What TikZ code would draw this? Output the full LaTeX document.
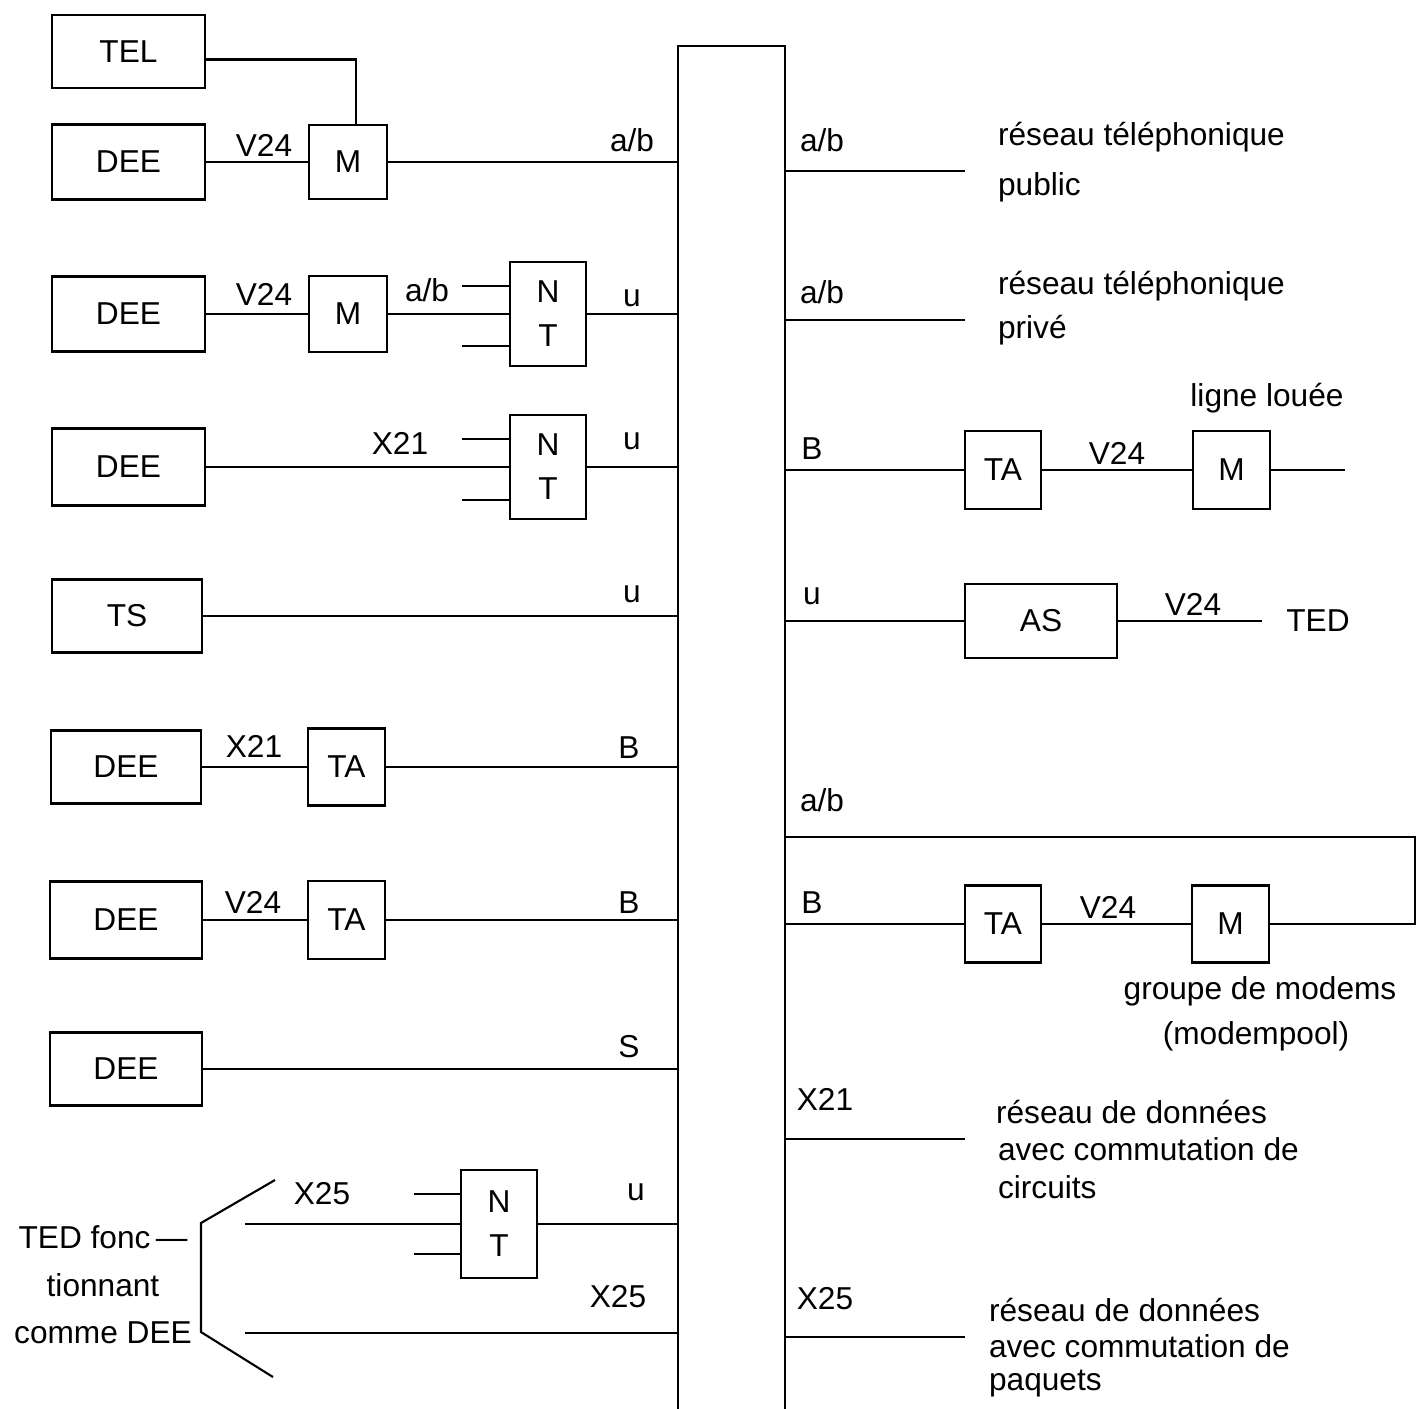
\documentclass[tikz,border=0pt]{standalone}
\usepackage{fontspec}
\setmainfont{Liberation Sans}
\usetikzlibrary{calc}
\begin{document}
\begin{tikzpicture}[x=0.01cm,y=-0.01cm,line width=0.6pt,
  txt/.style={font=\fontsize{9}{12.5}\selectfont, inner sep=0pt},
  blk/.style={draw, txt, inner sep=0pt, align=center},
  deebox/.style={blk, minimum width=1.53cm, minimum height=0.75cm},
  sqbox/.style={blk, minimum width=0.77cm, minimum height=0.77cm},
  ntbox/.style={blk, minimum width=0.76cm, minimum height=1.04cm},
  desc/.style={txt, anchor=west}]
\fill[white] (0,0) rectangle (1418,1408);
\useasboundingbox (0,0) rectangle (1418,1408);

% central bus
\node[minimum width=1.05cm, minimum height=13.62cm, inner sep=0pt, anchor=north west] (bus) at (678,46) {};
\draw (bus.south west) -- (bus.north west) -- (bus.north east) -- (bus.south east);

% ---------- left side ----------
% row 1
\node[deebox, minimum height=0.73cm] (tel) at (128.5,51.5) {TEL};
\node[deebox] (dee1) at (128.5,162) {DEE};
\node[sqbox, minimum width=0.78cm, minimum height=0.74cm] (m1) at (348,162) {M};
\draw ([yshift=-0.08cm]tel.east) -| ([xshift=0.08cm]m1.north);
\draw (dee1) -- (m1);
\draw (m1.east) -- (m1.east -| bus.west);
\node[txt] (l1a) at (264,145) {V24};
\node[txt] (l1b) at (632,140) {a/b};

% row 2
\node[deebox] (dee2) at (128.5,314) {DEE};
\node[sqbox, minimum width=0.78cm, minimum height=0.76cm] (m2) at (348,314) {M};
\node[ntbox] (nt1) at (548,314) {N\\T};
\draw (dee2) -- (m2);
\draw (m2) -- (nt1);
\draw ([yshift=0.28cm]nt1.west) -- ++(-47,0);
\draw ([yshift=-0.32cm]nt1.west) -- ++(-47,0);
\draw (nt1.east) -- (nt1.east -| bus.west);
\node[txt] (l2a) at (264,294) {V24};
\node[txt] (l2b) at (427,290) {a/b};
\node[txt] (l2c) at (632,298) {u};

% row 3
\node[deebox, minimum height=0.77cm] (dee3) at (128.5,467) {DEE};
\node[ntbox] (nt2) at (548,467) {N\\T};
\draw (dee3) -- (nt2);
\draw ([yshift=0.28cm]nt2.west) -- ++(-47,0);
\draw ([yshift=-0.33cm]nt2.west) -- ++(-47,0);
\draw (nt2.east) -- (nt2.east -| bus.west);
\node[txt] (l3a) at (400,443) {X21};
\node[txt] (l3b) at (632,441) {u};

% row 4
\node[deebox, minimum width=1.50cm, minimum height=0.73cm] (ts) at (127,616) {TS};
\draw (ts.east) -- (ts.east -| bus.west);
\node[txt] (l4a) at (632,594) {u};

% row 5
\node[deebox, minimum width=1.50cm, minimum height=0.73cm] (dee4) at (126,767) {DEE};
\node[sqbox] (ta4) at (346.5,767) {TA};
\draw (dee4) -- (ta4);
\draw (ta4.east) -- (ta4.east -| bus.west);
\node[txt] (l5a) at (254,746) {X21};
\node[txt] (l5b) at (629,748) {B};

% row 6
\node[deebox, minimum width=1.52cm, minimum height=0.77cm] (dee5) at (126,920) {DEE};
\node[sqbox, minimum height=0.78cm] (ta5) at (346.5,920) {TA};
\draw (dee5) -- (ta5);
\draw (ta5.east) -- (ta5.east -| bus.west);
\node[txt] (l6a) at (253,902) {V24};
\node[txt] (l6b) at (629,903) {B};

% row 7
\node[deebox, minimum width=1.52cm, minimum height=0.73cm] (dee6) at (126,1069) {DEE};
\draw (dee6.east) -- (dee6.east -| bus.west);
\node[txt] (l7a) at (629,1047) {S};

% row 8
\node[ntbox, minimum height=1.08cm] (nt3) at (499,1224) {N\\T};
\coordinate (w8) at (245,1224);
\coordinate (w9) at (245,1333);
\draw (w8) -- (nt3);
\draw ([yshift=0.30cm]nt3.west) -- ++(-46,0);
\draw ([yshift=-0.30cm]nt3.west) -- ++(-46,0);
\draw (nt3.east) -- (nt3.east -| bus.west);
\draw (w9) -- (w9 -| bus.west);
\node[txt] (l8a) at (322,1194) {X25};
\node[txt] (l8b) at (636,1192) {u};
\node[txt] (l8c) at (618,1297) {X25};

% brace
\coordinate (bA) at (275,1180);
\coordinate (bB) at (201,1223);
\coordinate (bC) at (201,1332);
\coordinate (bD) at (273,1377);
\draw (bA) -- (bB) -- (bC) -- (bD);
\node[txt, align=center, font=\fontsize{9}{13.5}\selectfont] (ted) at (103,1285) {TED fonc\,—\\tionnant\\comme DEE};

% ---------- right side ----------
% row 1
\coordinate (r1) at (965,171);
\draw (r1 -| bus.east) -- (r1);
\node[txt] (rl1) at (822,140) {a/b};
\node[desc] (d1a) at (997,137) {réseau téléphonique};
\node[desc] (d1b) at (997,187) {public};

% row 2
\coordinate (r2) at (965,320);
\draw (r2 -| bus.east) -- (r2);
\node[txt] (rl2) at (822,292) {a/b};
\node[desc] (d2a) at (997,286) {réseau téléphonique};
\node[desc] (d2b) at (997,330) {privé};

% row 3
\node[sqbox, minimum width=0.76cm, minimum height=0.78cm] (ta6) at (1003,470) {TA};
\node[sqbox, minimum height=0.78cm] (m6) at (1231.5,470) {M};
\coordinate (e3) at (1345,470);
\draw (ta6.west -| bus.east) -- (ta6);
\draw (ta6) -- (m6);
\draw (m6) -- (e3);
\node[txt] (rl3) at (812,449) {B};
\node[txt] (rl3b) at (1117,453) {V24};
\node[txt] (rl3c) at (1267,398) {ligne louée};

% row 4
\node[blk, minimum width=1.52cm, minimum height=0.74cm] (as) at (1041,621) {AS};
\coordinate (e4) at (1262,621);
\draw (as.west -| bus.east) -- (as);
\draw (as) -- (e4);
\node[txt] (rl4) at (812,596) {u};
\node[txt] (rl4b) at (1193,604) {V24};
\node[txt] (ted2) at (1318,621) {TED};

% rows 5-6 (modem pool loop)
\node[sqbox, minimum width=0.76cm] (ta7) at (1003,924) {TA};
\node[sqbox] (m7) at (1230.5,924) {M};
\coordinate (loop) at (1415,837);
\draw (loop -| bus.east) -- (loop) |- (m7.east);
\draw (ta7.west -| bus.east) -- (ta7);
\draw (ta7) -- (m7);
\node[txt] (rl5) at (822,800) {a/b};
\node[txt] (rl6) at (812,903) {B};
\node[txt] (rl6b) at (1108,907) {V24};
\node[txt] (rl6c) at (1260,991) {groupe de modems};
\node[txt] (rl6d) at (1256,1036) {(modempool)};

% row 7
\coordinate (r7) at (965,1139);
\draw (r7 -| bus.east) -- (r7);
\node[txt] (rl7) at (825,1099) {X21};
\node[desc] (d7a) at (995,1112) {réseau de données};
\node[desc] (d7b) at (997,1149) {avec commutation de};
\node[desc] (d7c) at (997,1187) {circuits};

% row 8
\coordinate (r8) at (965,1337);
\draw (r8 -| bus.east) -- (r8);
\node[txt] (rl8) at (825,1299) {X25};
\node[desc] (d8a) at (988,1310) {réseau de données};
\node[desc] (d8b) at (988,1346) {avec commutation de};
\node[desc] (d8c) at (988,1384) {paquets};
\end{tikzpicture}
\end{document}
